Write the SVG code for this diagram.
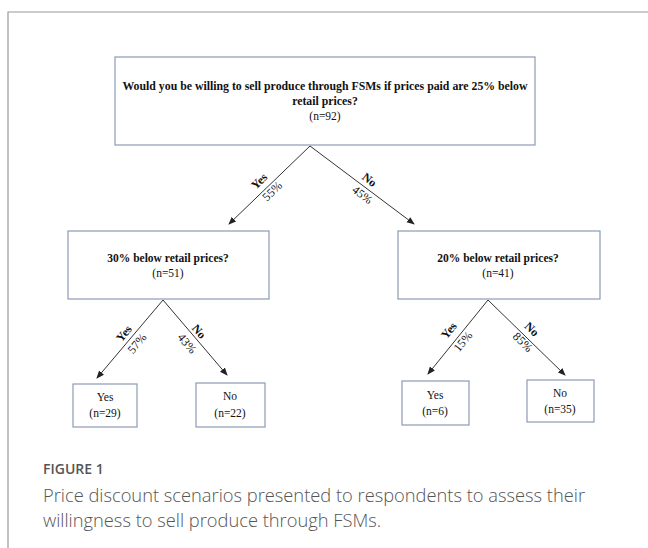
<svg xmlns="http://www.w3.org/2000/svg" width="648" height="548" viewBox="0 0 648 548">
<defs>
<marker id="ah" markerWidth="8" markerHeight="8" refX="7" refY="4" orient="auto" markerUnits="userSpaceOnUse">
<path d="M0,0.8 L8,4 L0,7.2 Z" fill="#222"/>
</marker>
<style>
.box{fill:#fff;stroke:#8a9bb5;stroke-width:1.2}
.t{font-family:"Liberation Serif","Times New Roman",serif;font-size:11.5px;fill:#111;text-anchor:middle}
.b{font-weight:bold}
.conn line{stroke:#333;stroke-width:1;marker-end:url(#ah)}
.lab{font-family:"Liberation Serif","Times New Roman",serif;font-size:12px;fill:#111;text-anchor:middle}
.cap{font-family:"Open Sans","Noto Sans",sans-serif;fill:#555}
</style>
</defs>
<rect width="648" height="548" fill="#fff"/>
<path d="M648,12 H8 V548" fill="none" stroke="#999" stroke-width="1.2"/>

<g id="root">
<rect class="box" x="115" y="57" width="420" height="88"/>
<text class="t b" x="325" y="90" style="font-size:11.8px">Would you be willing to sell produce through FSMs if prices paid are 25% below</text>
<text class="t b" x="325" y="105" style="font-size:11.8px">retail prices?</text>
<text class="t" x="325" y="120">(n=92)</text>
</g>

<g id="left">
<rect class="box" x="68" y="231" width="201" height="68"/>
<text class="t b" x="168" y="262">30% below retail prices?</text>
<text class="t" x="168" y="277">(n=51)</text>
</g>

<g id="right">
<rect class="box" x="398" y="231" width="202" height="68"/>
<text class="t b" x="498" y="262">20% below retail prices?</text>
<text class="t" x="498" y="277">(n=41)</text>
</g>

<g id="leaf-left-yes">
<rect class="box" x="73" y="384" width="64" height="43"/>
<text class="t" x="105" y="401">Yes</text>
<text class="t" x="105" y="417">(n=29)</text>
</g>
<g id="leaf-left-no">
<rect class="box" x="196" y="383" width="69" height="44"/>
<text class="t" x="230" y="400">No</text>
<text class="t" x="230" y="417">(n=22)</text>
</g>
<g id="leaf-right-yes">
<rect class="box" x="402" y="381" width="67" height="44"/>
<text class="t" x="435" y="399">Yes</text>
<text class="t" x="435" y="415">(n=6)</text>
</g>
<g id="leaf-right-no">
<rect class="box" x="527" y="380" width="67" height="42"/>
<text class="t" x="560" y="397">No</text>
<text class="t" x="560" y="413">(n=35)</text>
</g>

<g class="conn">
<line x1="310" y1="146" x2="229" y2="224"/>
<line x1="310" y1="146" x2="414" y2="224"/>
<line x1="163" y1="300" x2="97" y2="378"/>
<line x1="163" y1="300" x2="227" y2="375"/>
<line x1="488" y1="300" x2="428" y2="374"/>
<line x1="488" y1="300" x2="565" y2="375"/>
</g>

<g id="labels">
<text class="lab b" transform="translate(262,184) rotate(-44)">Yes</text>
<text class="lab" transform="translate(275,194) rotate(-44)">55%</text>
<text class="lab b" transform="translate(367,183) rotate(38)">No</text>
<text class="lab" transform="translate(360,198) rotate(38)">45%</text>
<text class="lab b" transform="translate(127,336) rotate(-50)">Yes</text>
<text class="lab" transform="translate(140,346) rotate(-50)">57%</text>
<text class="lab b" transform="translate(196,334) rotate(50)">No</text>
<text class="lab" transform="translate(184,346) rotate(50)">43%</text>
<text class="lab b" transform="translate(452,333) rotate(-51)">Yes</text>
<text class="lab" transform="translate(466,344) rotate(-51)">15%</text>
<text class="lab b" transform="translate(529,332) rotate(44)">No</text>
<text class="lab" transform="translate(520,345) rotate(44)">85%</text>
</g>

<g id="caption">
<text class="cap" x="43" y="474" font-size="14" font-weight="600" fill="#666">FIGURE 1</text>
<text class="cap" x="43" y="502" font-size="18.3" font-weight="300">Price discount scenarios presented to respondents to assess their</text>
<text class="cap" x="43" y="527" font-size="18.3" font-weight="300">willingness to sell produce through FSMs.</text>
</g>
</svg>
